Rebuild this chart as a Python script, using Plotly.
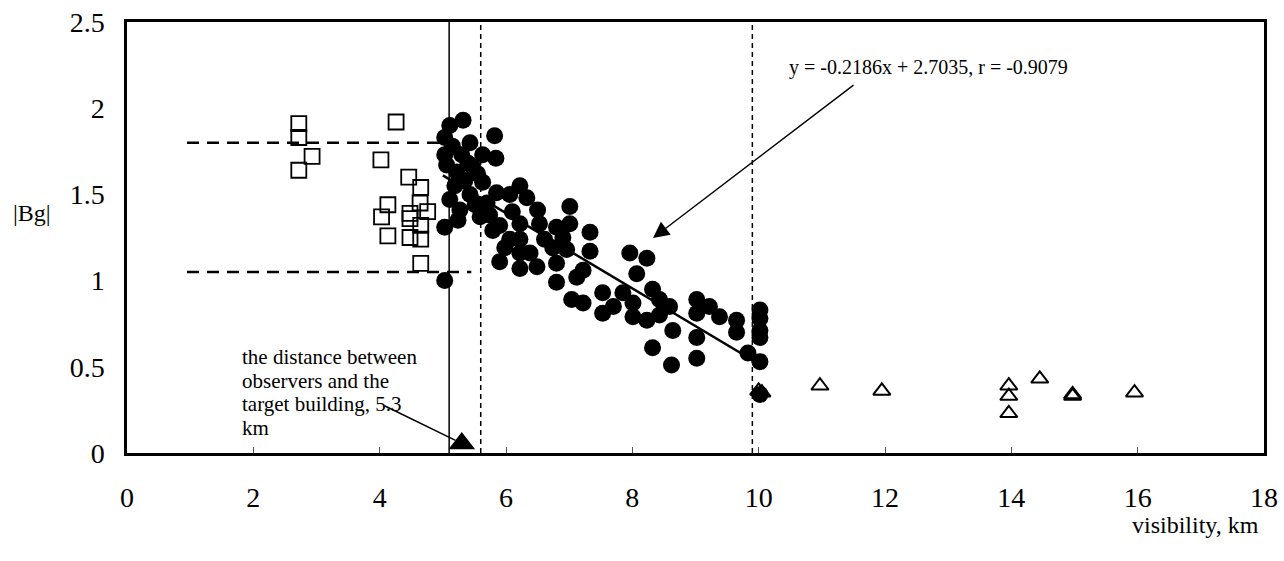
import plotly.graph_objects as go

# ---------------- data ----------------
square_x = [2.72, 2.72, 2.93, 2.72, 4.26, 4.02, 4.46, 4.65, 4.13, 4.03, 4.13, 4.48, 4.48,
            4.64, 4.65, 4.65, 4.76, 4.65, 4.48]
square_y = [1.91, 1.83, 1.72, 1.64, 1.92, 1.70, 1.60, 1.54, 1.44, 1.37, 1.26, 1.39, 1.25,
            1.45, 1.32, 1.24, 1.40, 1.10, 1.36]

circle_x = [5.32, 5.11, 5.03, 5.82, 5.43, 5.03, 5.06, 5.30, 5.63, 5.84, 5.47, 5.22, 5.63,
            5.85, 6.22, 6.33, 6.06, 5.43, 5.11, 5.70, 6.50, 7.01, 5.24, 5.03, 5.59, 5.79,
            6.22, 6.53, 6.80, 7.01, 7.33, 6.22, 6.38, 6.22, 6.49, 6.22, 6.80, 6.96, 7.33,
            6.80, 7.12, 7.22, 7.04, 7.22, 7.53, 7.53, 7.96, 8.23, 8.07, 7.85, 8.01, 8.32,
            8.43, 8.01, 8.23, 8.59, 8.64, 8.32, 8.62, 9.02, 9.02, 9.22, 9.38, 9.02, 9.02,
            9.65, 9.65, 10.02, 10.02, 10.02, 10.02, 9.83, 10.02, 10.02, 5.03,
            5.19, 5.35, 5.51, 5.27, 5.74, 5.90, 6.06, 5.98, 6.61, 6.74, 5.90, 8.43, 7.70,
            6.90, 6.10, 5.55, 5.15, 5.40]
circle_y = [1.93, 1.90, 1.83, 1.84, 1.80, 1.73, 1.67, 1.73, 1.73, 1.71, 1.66, 1.63, 1.57,
            1.51, 1.55, 1.48, 1.50, 1.50, 1.47, 1.45, 1.41, 1.43, 1.35, 1.31, 1.37, 1.29,
            1.33, 1.33, 1.31, 1.33, 1.28, 1.24, 1.16, 1.16, 1.08, 1.07, 1.10, 1.18, 1.17,
            0.99, 1.02, 1.06, 0.89, 0.87, 0.93, 0.81, 1.16, 1.13, 1.04, 0.93, 0.87, 0.95,
            0.89, 0.79, 0.77, 0.85, 0.71, 0.61, 0.51, 0.89, 0.81, 0.85, 0.79, 0.67, 0.55,
            0.77, 0.70, 0.83, 0.78, 0.71, 0.67, 0.58, 0.53, 0.34, 1.00,
            1.55, 1.58, 1.44, 1.41, 1.38, 1.32, 1.24, 1.19, 1.24, 1.19, 1.11, 0.80, 0.85,
            1.25, 1.40, 1.62, 1.78, 1.68]

triangle_x = [10.05, 10.0, 10.97, 11.95, 13.96, 13.96, 13.96, 14.45, 14.97, 14.97, 15.95]
triangle_y = [0.35, 0.36, 0.39, 0.36, 0.39, 0.33, 0.23, 0.43, 0.34, 0.33, 0.35]

building_x = [5.3]
building_y = [0.055]

fit_slope = -0.2186
fit_intercept = 2.7035
fit_x = [5.0, 9.9]
fit_label = "y = -0.2186x + 2.7035, r = -0.9079"

solid_vline_x = 5.1
dashed_vline_x = [5.6, 9.9]
hline_y = [1.8, 1.05]
hline_x_start = 0.95
hline_x_end = [5.15, 5.45]

building_text = ["the distance between", "observers and the", "target building, 5.3", "km"]

x_ticks = [0, 2, 4, 6, 8, 10, 12, 14, 16, 18]
y_ticks = [0, 0.5, 1, 1.5, 2, 2.5]
y_tick_text = ["0", "0.5", "1", "1.5", "2", "2.5"]

FONT = "Liberation Serif, Times New Roman, serif"

# body margin is removed by post_script, so figure covers the full page
W, H = 1284, 561
PL, PR, PT, PB = 127, 1264, 22, 453  # plot box in page pixels
ML, MR, MT, MB = PL, W - PR, PT, H - PB
pw, ph = PR - PL, PB - PT


def page_to_paper(px, py):
    return (px - PL) / pw, (PB - py) / ph


def page_to_data(px, py):
    return (px - PL) / pw * 18.0, (PB - py) / ph * 2.5


fig = go.Figure()

# reference lines
fig.add_shape(type="line", x0=solid_vline_x, x1=solid_vline_x, y0=0, y1=2.5,
              line=dict(color="black", width=1.5))
for vx in dashed_vline_x:
    fig.add_shape(type="line", x0=vx, x1=vx, y0=0, y1=2.5,
                  line=dict(color="black", width=1.5, dash="5px,4px"))
for hy, hx1 in zip(hline_y, hline_x_end):
    fig.add_shape(type="line", x0=hline_x_start, x1=hx1, y0=hy, y1=hy,
                  line=dict(color="black", width=2.5, dash="12px,8px"))

fig.add_trace(go.Scatter(x=square_x, y=square_y, mode="markers",
                         marker=dict(symbol="square-open", size=15, color="black",
                                     line=dict(width=1.8))))
fig.add_trace(go.Scatter(x=circle_x, y=circle_y, mode="markers",
                         marker=dict(symbol="circle", size=17, color="black")))
fig.add_trace(go.Scatter(x=triangle_x, y=triangle_y, mode="markers",
                         marker=dict(symbol="triangle-up-open", size=15, color="black",
                                     line=dict(width=2))))
fit_y = [fit_slope * v + fit_intercept for v in fit_x]
fig.add_trace(go.Scatter(x=fit_x, y=fit_y, mode="lines",
                         line=dict(color="black", width=2.5)))
fig.add_trace(go.Scatter(x=building_x, y=building_y, mode="markers", cliponaxis=False,
                         marker=dict(symbol="triangle-up", size=23, color="black")))

# regression arrow
tip = page_to_data(653, 238)
tail = page_to_data(855, 84)
fig.add_annotation(x=tip[0], y=tip[1], xref="x", yref="y", text="", showarrow=True,
                   arrowhead=2, arrowsize=2.3, arrowwidth=1.4, arrowcolor="black",
                   ax=tail[0], ay=tail[1], axref="x", ayref="y", standoff=0)
lx, ly = page_to_paper(787, 68)
fig.add_annotation(x=lx, y=ly, xref="paper", yref="paper", text=fit_label, showarrow=False,
                   xanchor="left", yanchor="middle",
                   font=dict(family=FONT, size=20, color="black"))

# building arrow
b_tail = page_to_data(383, 405)
fig.add_annotation(x=building_x[0], y=building_y[0], xref="x", yref="y", text="",
                   showarrow=True, arrowhead=0, arrowwidth=1.5, arrowcolor="black",
                   standoff=7, ax=b_tail[0], ay=b_tail[1], axref="x", ayref="y")
for i, line in enumerate(building_text):
    tx, ty = page_to_paper(240, 357 + 23.7 * i)
    fig.add_annotation(x=tx, y=ty, xref="paper", yref="paper", text=line, showarrow=False,
                       xanchor="left", yanchor="middle",
                       font=dict(family=FONT, size=21, color="black"))

# axis titles
ax_, ay_ = page_to_paper(32, 213)
fig.add_annotation(x=ax_, y=ay_, xref="paper", yref="paper", text="|Bg|", showarrow=False,
                   xanchor="center", yanchor="middle",
                   font=dict(family=FONT, size=24, color="black"))
vx_, vy_ = page_to_paper(1195, 525)
fig.add_annotation(x=vx_, y=vy_, xref="paper", yref="paper", text="visibility, km",
                   showarrow=False, xanchor="center", yanchor="middle",
                   font=dict(family=FONT, size=24, color="black"))

fig.update_layout(
    width=W, height=H,
    margin=dict(l=ML, r=MR, t=MT, b=MB, autoexpand=False),
    plot_bgcolor="white", paper_bgcolor="white",
    showlegend=False,
    hovermode=False,
    font=dict(family=FONT, size=22, color="black"),
)
fig.update_xaxes(range=[0, 18], tickvals=x_ticks, ticks="inside", ticklen=6, tickwidth=1,
                 tickcolor="#555", showgrid=False, zeroline=False, showline=True,
                 linewidth=2.5, linecolor="black", mirror=True, ticklabeloverflow="allow",
                 ticklabelstandoff=18, tickfont=dict(family=FONT, size=28))
fig.update_yaxes(range=[0, 2.5], tickvals=y_ticks, ticktext=y_tick_text, ticks="",
                 showgrid=False, zeroline=False, showline=True, linewidth=2.5,
                 linecolor="black", mirror=True, ticklabelstandoff=14,
                 ticklabeloverflow="allow", tickfont=dict(family=FONT, size=28))

fig.write_html("out.html", config={"displayModeBar": False},
               post_script="document.body.style.margin='0px';"
                           "document.body.style.overflow='hidden';")
